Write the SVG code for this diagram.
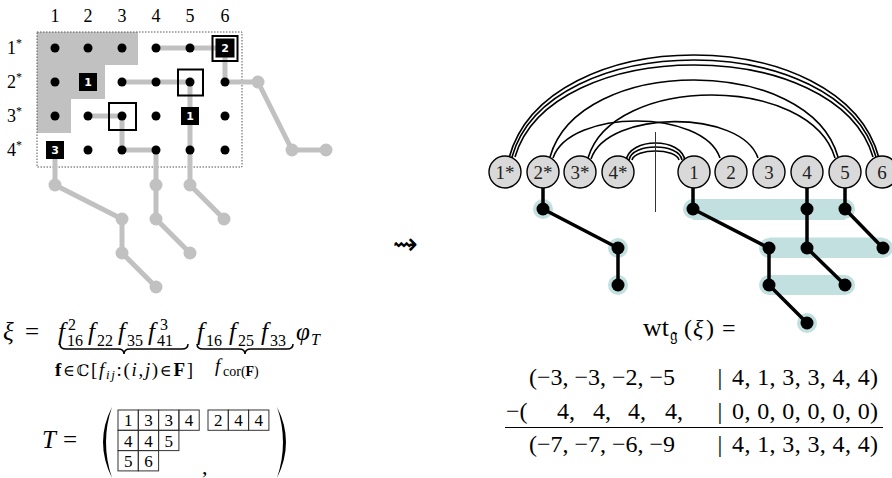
<svg xmlns="http://www.w3.org/2000/svg" width="892" height="478" viewBox="0 0 892 478">
<style>
.serif{font-family:"Liberation Serif","DejaVu Serif",serif;fill:#000}
.it{font-style:italic}
.gp{fill:none;stroke:#c1c1c1;stroke-width:5;stroke-linejoin:round;stroke-linecap:round}
.gc{fill:#c1c1c1}
.dot{fill:#000}
.box{fill:none;stroke:#000;stroke-width:2}
.blk{fill:#000}
.bn{font-family:"DejaVu Sans","Liberation Sans",sans-serif;font-weight:bold;font-size:11px;fill:#fff;text-anchor:middle}
.node circle{fill:#d9d9d9;stroke:#000;stroke-width:1.4}
.node text{font-family:"Liberation Serif","DejaVu Serif",serif;font-size:19px;text-anchor:middle;fill:#222}
.arc{fill:none;stroke:#000;stroke-width:1.6}
.edge{fill:none;stroke:#000;stroke-width:3.5;stroke-linejoin:round}
.band{fill:#c1e0df}
.cell{fill:none;stroke:#333;stroke-width:1}
.cn{font-family:"Liberation Serif","DejaVu Serif",serif;font-size:17px;text-anchor:middle;fill:#000}
.brace{fill:none;stroke:#000;stroke-width:1.5}
.f{font-size:25px;font-style:italic}
.sb{font-size:16px}
</style>

<!-- Left grid -->
<g id="grid">
  <polygon points="37,32 138,32 138,65 105,65 105,99 71,99 71,133 37,133" fill="#c1c1c1"/>
  <rect x="37" y="32" width="205" height="135" fill="none" stroke="#555" stroke-width="1" stroke-dasharray="1.5,1.5"/>
  <g class="serif" font-size="18" text-anchor="middle">
    <text x="55" y="22">1</text><text x="88" y="22">2</text><text x="122" y="22">3</text>
    <text x="156" y="22">4</text><text x="190" y="22">5</text><text x="225" y="22">6</text>
  </g>
  <g class="serif" font-size="18">
    <text x="7" y="54">1<tspan font-size="12" dy="-7">*</tspan></text>
    <text x="7" y="88">2<tspan font-size="12" dy="-7">*</tspan></text>
    <text x="7" y="122">3<tspan font-size="12" dy="-7">*</tspan></text>
    <text x="7" y="156">4<tspan font-size="12" dy="-7">*</tspan></text>
  </g>
  <path class="gp" d="M156,48 H225 V82 H258 L292,150 H326"/>
  <path class="gp" d="M122,82 H190 V185 L224,219"/>
  <path class="gp" d="M88,116 H122 V150 H156 V219 L190,253"/>
  <path class="gp" d="M55,150 V185 L122,219 V253 L156,287"/>
  <g class="gc">
    <circle cx="258" cy="82" r="6.5"/><circle cx="292" cy="150" r="6.5"/><circle cx="326" cy="150" r="6.5"/>
    <circle cx="190" cy="185" r="6.5"/><circle cx="224" cy="219" r="6.5"/>
    <circle cx="156" cy="185" r="6.5"/><circle cx="156" cy="219" r="6.5"/><circle cx="190" cy="253" r="6.5"/>
    <circle cx="55" cy="185" r="6.5"/><circle cx="122" cy="219" r="6.5"/><circle cx="122" cy="253" r="6.5"/><circle cx="156" cy="287" r="6.5"/>
  </g>
  <g class="dot">
    <circle cx="55" cy="48" r="4.5"/><circle cx="88" cy="48" r="4.5"/><circle cx="122" cy="48" r="4.5"/><circle cx="156" cy="48" r="4.5"/><circle cx="190" cy="48" r="4.5"/>
    <circle cx="55" cy="82" r="4.5"/><circle cx="122" cy="82" r="4.5"/><circle cx="156" cy="82" r="4.5"/><circle cx="190" cy="82" r="4.5"/><circle cx="225" cy="82" r="4.5"/>
    <circle cx="55" cy="116" r="4.5"/><circle cx="88" cy="116" r="4.5"/><circle cx="122" cy="116" r="4.5"/><circle cx="156" cy="116" r="4.5"/><circle cx="225" cy="116" r="4.5"/>
    <circle cx="88" cy="150" r="4.5"/><circle cx="122" cy="150" r="4.5"/><circle cx="156" cy="150" r="4.5"/><circle cx="190" cy="150" r="4.5"/><circle cx="225" cy="150" r="4.5"/>
  </g>
  <rect class="box" x="178" y="69.5" width="25" height="26"/>
  <rect class="box" x="109" y="103" width="27" height="27"/>
  <rect class="box" x="212.5" y="36" width="25" height="25"/>
  <rect class="blk" x="215.5" y="38.5" width="19" height="19"/>
  <text class="bn" x="225" y="52">2</text>
  <rect class="blk" x="79" y="73" width="18" height="18"/>
  <text class="bn" x="88" y="86">1</text>
  <rect class="blk" x="181" y="107" width="18" height="18"/>
  <text class="bn" x="190" y="120">1</text>
  <rect class="blk" x="46" y="141" width="18" height="18"/>
  <text class="bn" x="55" y="154">3</text>
</g>

<!-- squiggle arrow -->
<text x="405" y="254" font-family="DejaVu Sans, sans-serif" font-size="30" text-anchor="middle">⇝</text>

<!-- Left formula -->
<g id="xi-formula" class="serif">
  <text x="3" y="340" font-size="25" class="it">ξ</text>
  <text x="25" y="340" font-size="25">=</text>
  <text x="58" y="340" class="f">f</text><text x="67" y="346" class="sb">16</text><text x="68" y="330" class="sb">2</text>
  <text x="88" y="340" class="f">f</text><text x="97" y="346" class="sb">22</text>
  <text x="118" y="340" class="f">f</text><text x="127" y="346" class="sb">35</text>
  <text x="148" y="340" class="f">f</text><text x="157" y="346" class="sb">41</text><text x="160" y="330" class="sb">3</text>
  <text x="197" y="340" class="f">f</text><text x="206" y="346" class="sb">16</text>
  <text x="229" y="340" class="f">f</text><text x="238" y="346" class="sb">25</text>
  <text x="261" y="340" class="f">f</text><text x="270" y="346" class="sb">33</text>
  <text x="296" y="340" class="f">φ</text><text x="311" y="345" class="sb it">T</text>
  <path class="brace" d="M60,344 Q60,349 66,349 H118 Q124,349 124,354 Q124,349 130,349 H182 Q188,349 188,344"/>
  <path class="brace" d="M197,344 Q197,349 203,349 H239 Q245,349 245,354 Q245,349 251,349 H287 Q293,349 293,344"/>
  <text x="55" y="376" font-size="19" textLength="138" lengthAdjust="spacing"><tspan font-weight="bold">f</tspan><tspan font-family="DejaVu Serif,serif" font-size="16">∈ℂ</tspan>[<tspan class="it">f</tspan><tspan class="it" font-size="13" dy="3">ij</tspan><tspan dy="-3">:(</tspan><tspan class="it">i</tspan>,<tspan class="it">j</tspan>)<tspan font-family="DejaVu Serif,serif" font-size="16">∈</tspan><tspan font-weight="bold">F</tspan>]</text>
  <text x="215" y="372" font-size="19" class="it">f</text><text x="223" y="376" font-size="14">cor(<tspan font-weight="bold">F</tspan>)</text>
</g>

<!-- T tableau -->
<g id="tableau" class="serif">
  <text x="42" y="448" font-size="25" class="it">T</text>
  <text x="63" y="448" font-size="25">=</text>
  <path d="M112,407 Q94,442 112,478 Q100,442 112,407 Z" fill="#000"/>
  <path d="M277,407 Q295,442 277,478 Q289,442 277,407 Z" fill="#000"/>
  <g>
    <rect class="cell" x="118" y="410" width="20.3" height="20.3"/><rect class="cell" x="138.3" y="410" width="20.3" height="20.3"/><rect class="cell" x="158.6" y="410" width="20.3" height="20.3"/><rect class="cell" x="178.9" y="410" width="20.3" height="20.3"/>
    <rect class="cell" x="118" y="430.3" width="20.3" height="20.3"/><rect class="cell" x="138.3" y="430.3" width="20.3" height="20.3"/><rect class="cell" x="158.6" y="430.3" width="20.3" height="20.3"/>
    <rect class="cell" x="118" y="450.6" width="20.3" height="20.3"/><rect class="cell" x="138.3" y="450.6" width="20.3" height="20.3"/>
    <text class="cn" x="128.2" y="426">1</text><text class="cn" x="148.5" y="426">3</text><text class="cn" x="168.8" y="426">3</text><text class="cn" x="189" y="426">4</text>
    <text class="cn" x="128.2" y="446.5">4</text><text class="cn" x="148.5" y="446.5">4</text><text class="cn" x="168.8" y="446.5">5</text>
    <text class="cn" x="128.2" y="467">5</text><text class="cn" x="148.5" y="467">6</text>
  </g>
  <g>
    <rect class="cell" x="208" y="410" width="20.3" height="20.3"/><rect class="cell" x="228.3" y="410" width="20.3" height="20.3"/><rect class="cell" x="248.6" y="410" width="20.3" height="20.3"/>
    <text class="cn" x="218.2" y="426">2</text><text class="cn" x="238.5" y="426">4</text><text class="cn" x="258.8" y="426">4</text>
  </g>
  <text x="202" y="474" font-size="22">,</text>
</g>

<!-- Right: connectors -->
<g id="connectors">
  <path class="arc" d="M509,158 C546,20.7 842,20.7 879,158"/>
  <path class="arc" d="M512,157 C548.4,27.7 839.6,27.7 876,157"/>
  <path class="arc" d="M515,157 C550.8,34.3 837.2,34.3 873,157"/>
  <path class="arc" d="M550,157 C578.8,54.3 809.2,54.3 838,157"/>
  <path class="arc" d="M588,158 C612.7,74 810.3,74 835,158"/>
  <path class="arc" d="M553,158 C569.7,108.7 703.3,108.7 720,158"/>
  <path class="arc" d="M591,159 C607.7,109.3 741.3,109.3 758,158"/>
  <path class="arc" d="M626,161 C629,137 682,137 685,161"/>
  <path class="arc" d="M629,160 C632,142.7 679,142.7 682,160"/>
  <path class="arc" d="M632,160 C635,148 676,148 679,160"/>
  <line x1="655.5" y1="132" x2="655.5" y2="212" stroke="#333" stroke-width="1"/>
  <g class="band">
    <rect x="693" y="199" width="152" height="21"/>
    <rect x="769" y="237.5" width="114" height="20.5"/>
    <rect x="769" y="275" width="76" height="20"/>
    <circle cx="543" cy="209" r="10"/><circle cx="618" cy="248" r="10"/><circle cx="618" cy="285" r="10"/>
    <circle cx="693" cy="209" r="10"/><circle cx="769" cy="248" r="10"/><circle cx="769" cy="285" r="10"/><circle cx="807" cy="323" r="10"/>
    <circle cx="807" cy="209" r="10"/><circle cx="807" cy="248" r="10"/><circle cx="845" cy="285" r="10"/>
    <circle cx="845" cy="209" r="10"/><circle cx="883" cy="248" r="10"/>
  </g>
  <path class="edge" d="M543,188 V209 L618,248 V285"/>
  <path class="edge" d="M693,188 V209 L769,248 V285 L807,323"/>
  <path class="edge" d="M807,188 V248 L845,285"/>
  <path class="edge" d="M845,188 V209 L883,248"/>
  <g fill="#000">
    <circle cx="543" cy="209" r="6.5"/><circle cx="618" cy="248" r="6.5"/><circle cx="618" cy="285" r="6.5"/>
    <circle cx="693" cy="209" r="6.5"/><circle cx="769" cy="248" r="6.5"/><circle cx="769" cy="285" r="6.5"/><circle cx="807" cy="323" r="6.5"/>
    <circle cx="807" cy="209" r="6.5"/><circle cx="807" cy="248" r="6.5"/><circle cx="845" cy="285" r="6.5"/>
    <circle cx="845" cy="209" r="6.5"/><circle cx="883" cy="248" r="6.5"/>
  </g>
</g>

<!-- Right: nodes -->
<g id="n1s" class="node"><circle cx="505" cy="172" r="16"/><text x="505" y="179">1*</text></g>
<g id="n2s" class="node"><circle cx="543" cy="172" r="16"/><text x="543" y="179">2*</text></g>
<g id="n3s" class="node"><circle cx="580" cy="172" r="16"/><text x="580" y="179">3*</text></g>
<g id="n4s" class="node"><circle cx="618" cy="172" r="16"/><text x="618" y="179">4*</text></g>
<g id="n1" class="node"><circle cx="694" cy="172" r="16"/><text x="694" y="179">1</text></g>
<g id="n2" class="node"><circle cx="731" cy="172" r="16"/><text x="731" y="179">2</text></g>
<g id="n3" class="node"><circle cx="769" cy="172" r="16"/><text x="769" y="179">3</text></g>
<g id="n4" class="node"><circle cx="807" cy="172" r="16"/><text x="807" y="179">4</text></g>
<g id="n5" class="node"><circle cx="845" cy="172" r="16"/><text x="845" y="179">5</text></g>
<g id="n6" class="node"><circle cx="882" cy="172" r="16"/><text x="882" y="179">6</text></g>

<!-- weight formula -->
<g id="weight" class="serif" font-size="24">
  <text x="643" y="336" font-size="26">wt</text>
  <text x="670" y="341" font-size="17" font-family="DejaVu Serif,serif">𝔤</text>
  <text x="684" y="336">(</text><text x="693" y="336" class="it">ξ</text><text x="706" y="336">)</text>
  <text x="722" y="336">=</text>
  <text x="529" y="385" textLength="146" lengthAdjust="spacing">(−3, −3, −2, −5</text>
  <text x="720" y="385" text-anchor="middle">|</text>
  <text x="732" y="385" textLength="146" lengthAdjust="spacing">4, 1, 3, 3, 4, 4)</text>
  <text x="506" y="419">−(</text>
  <text x="557" y="419">4,</text><text x="593" y="419">4,</text><text x="628" y="419">4,</text><text x="665" y="419">4,</text>
  <text x="720" y="419" text-anchor="middle">|</text>
  <text x="732" y="419" textLength="146" lengthAdjust="spacing">0, 0, 0, 0, 0, 0)</text>
  <line x1="505" y1="427.5" x2="883" y2="427.5" stroke="#000" stroke-width="1.2"/>
  <text x="529" y="452" textLength="146" lengthAdjust="spacing">(−7, −7, −6, −9</text>
  <text x="720" y="452" text-anchor="middle">|</text>
  <text x="732" y="452" textLength="146" lengthAdjust="spacing">4, 1, 3, 3, 4, 4)</text>
</g>
</svg>
